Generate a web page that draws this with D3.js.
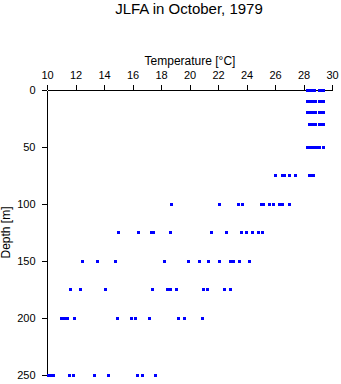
<!DOCTYPE html>
<html>
<head>
<meta charset="utf-8">
<script src="https://cdn.jsdelivr.net/npm/d3@7"></script>
<style>
  html, body { margin: 0; padding: 0; background: #fff; }
  svg { display: block; }
  text { font-family: "Liberation Sans", Arial, Helvetica, sans-serif; fill: #000; }
</style>
</head>
<body>
<svg id="chart" width="341" height="384"></svg>
<script>
// ---- data ----
const title = "JLFA in October, 1979";
const xLabel = "Temperature [°C]";
const yLabel = "Depth [m]";
const xTicks = [10, 12, 14, 16, 18, 20, 22, 24, 26, 28, 30];
const yTicks = [0, 50, 100, 150, 200, 250];
const depthLevels = [0, 10, 20, 30, 50, 75, 100, 125, 150, 175, 200, 250];
const temps0   = [28.3, 28.4, 28.5, 28.6, 28.7, 28.8, 29.15, 29.27, 29.4];
const temps10  = [28.25, 28.35, 28.45, 28.55, 28.65, 28.75, 28.82, 29.1, 29.2, 29.3, 29.38];
const temps20  = [28.25, 28.35, 28.45, 28.55, 28.65, 28.75, 28.82, 29.1, 29.2, 29.3, 29.38];
const temps30  = [28.4, 28.5, 28.6, 28.7, 28.82, 29.15, 29.25, 29.37];
const temps50  = [28.25, 28.35, 28.45, 28.55, 28.65, 28.75, 28.85, 28.95, 29.05, 29.1, 29.38];
const temps75  = [26.06, 26.5, 26.7, 27.0, 27.47, 28.45, 28.55, 28.65, 28.72];
const temps100 = [18.72, 22.09, 23.41, 23.7, 25.08, 25.2, 25.59, 25.92, 26.31, 26.56, 27.0];
const temps125 = [14.99, 16.4, 17.35, 17.5, 18.7, 21.52, 22.57, 23.62, 23.98, 24.39, 24.81, 25.11];
const temps150 = [12.51, 13.51, 14.8, 18.22, 19.91, 20.71, 21.32, 22.09, 22.91, 23.12, 23.5, 24.2];
const temps175 = [11.65, 12.38, 14.12, 17.4, 18.44, 18.68, 19.1, 21.0, 21.25, 22.44, 22.9];
const temps200 = [11.05, 11.23, 11.41, 11.9, 14.92, 15.92, 16.22, 17.19, 19.21, 19.63, 20.9];
const temps250 = [10.1, 10.28, 10.46, 11.55, 11.88, 13.32, 14.3, 16.38, 16.7, 17.59];
const tempsByLevel = [temps0, temps10, temps20, temps30, temps50, temps75, temps100,
                      temps125, temps150, temps175, temps200, temps250];

const points = [];
depthLevels.forEach((d, i) => tempsByLevel[i].forEach(t => points.push({ depth: d, temp: t })));

// ---- chart ----
const svg = d3.select("#chart");
const x = d3.scaleLinear().domain([10, 30]).range([47, 332]);
const y = d3.scaleLinear().domain([0, 250]).range([90, 375]);

svg.append("text")
  .attr("x", 189).attr("y", 13.5)
  .attr("text-anchor", "middle")
  .style("font-size", "15px")
  .text(title);

const xAxis = svg.append("g")
  .attr("transform", "translate(0,90)")
  .call(d3.axisTop(x).tickValues(xTicks).tickSize(5).tickSizeOuter(0).tickPadding(6.5));
xAxis.selectAll("text").style("font-size", "11px").style("font-family", '"Liberation Sans", Arial, sans-serif');

const yAxis = svg.append("g")
  .attr("transform", "translate(47,0)")
  .call(d3.axisLeft(y).tickValues(yTicks).tickSize(5).tickSizeOuter(0).tickPadding(6.5));
yAxis.selectAll("text").style("font-size", "11px").style("font-family", '"Liberation Sans", Arial, sans-serif');

svg.selectAll(".domain, .tick line").attr("stroke", "#000").attr("shape-rendering", "crispEdges");

svg.append("text")
  .attr("x", 190).attr("y", 64.5)
  .attr("text-anchor", "middle")
  .style("font-size", "12px")
  .text(xLabel);

svg.append("text")
  .attr("transform", "translate(10,232.5) rotate(-90)")
  .attr("text-anchor", "middle")
  .style("font-size", "12px")
  .text(yLabel);

svg.append("g").selectAll("rect")
  .data(points)
  .join("rect")
  .attr("x", d => Math.round(x(d.temp) - 1.5))
  .attr("y", d => Math.round(y(d.depth) - 1.5))
  .attr("width", 3)
  .attr("height", 3)
  .attr("fill", "#0000ff")
  .attr("shape-rendering", "crispEdges");
</script>
</body>
</html>
